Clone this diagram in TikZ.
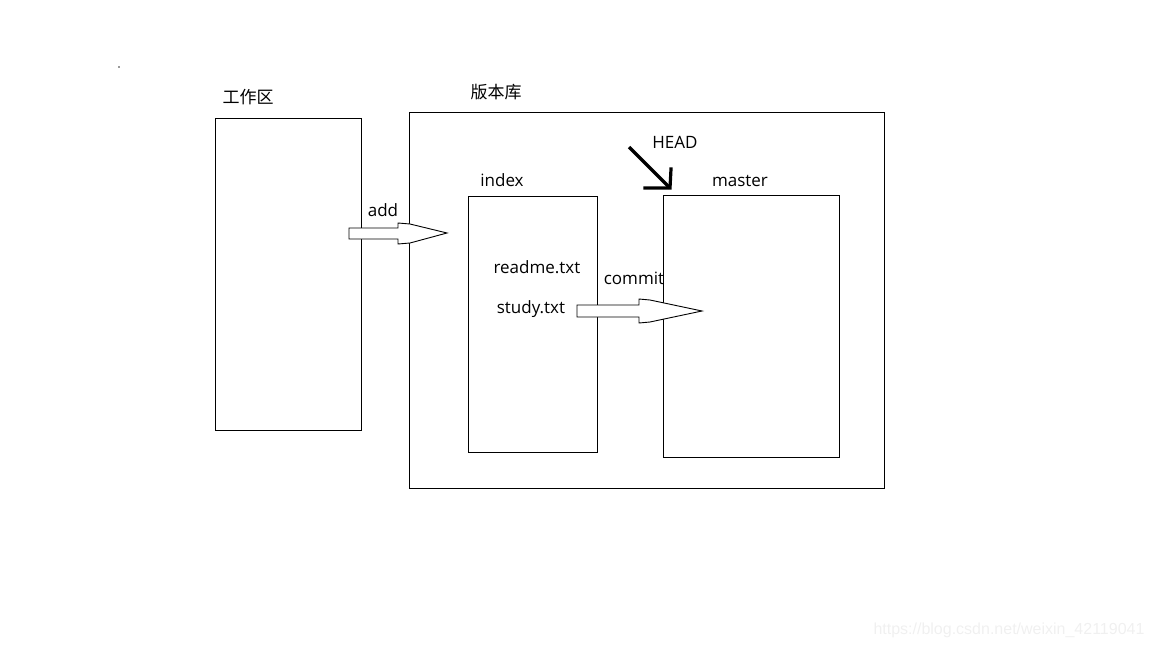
\documentclass[tikz,border=0pt]{standalone}
\usepackage{fontspec}
\setmainfont{Open Sans}
\newfontfamily\cjk{Noto Sans CJK SC}
\begin{document}
\begin{tikzpicture}[x=1pt,y=-1pt,
  box/.style={draw=black,line width=0.9pt,inner sep=0pt},
  lbl/.style={font=\fontsize{17}{20}\selectfont,inner sep=0pt,anchor=center},
  blockarrow/.style={draw=black,line width=0.9pt,fill=white,line join=miter}]
\useasboundingbox (0,0) rectangle (1152,648);
% boxes
\node[box,minimum width=146pt,minimum height=312pt] (work) at (288,274) {};
\node[box,minimum width=475pt,minimum height=376pt] (repo) at (646.5,300) {};
\node[box,minimum width=129pt,minimum height=256pt] (index) at (532.5,324) {};
\node[box,minimum width=176pt,minimum height=262pt] (master) at (751,326) {};
% labels
\node[lbl,font=\cjk\fontsize{17}{20}\selectfont] (workl) at (248,97) {工作区};
\node[lbl,font=\cjk\fontsize{17}{20}\selectfont] (repol) at (496,92) {版本库};
\node[lbl] (indexl) at (502,180) {index};
\node[lbl] (masterl) at (740,181) {master};
\node[lbl] (headl) at (675,142) {HEAD};
\node[lbl] (addl) at (383,210) {add};
\node[lbl] (commitl) at (634,278) {commit};
\node[lbl] (readme) at (537,267) {readme.txt};
\node[lbl] (study) at (531,309) {study.txt};
\node[inner sep=0pt] (dot) at (119,67) {};
\fill[black!80] (dot) circle (0.8pt);
% add arrow
\draw[blockarrow] (349,228) -- (398,228) -- (398,223) -- (410,224) -- (447,233) -- (410,243) -- (398,244) -- (398,239) -- (349,239) -- cycle;
% commit arrow
\draw[blockarrow] (577,305) -- (639,305) -- (639,299) -- (650,300) -- (702,311) -- (650,322) -- (639,323) -- (639,317) -- (577,317) -- cycle;
% HEAD arrow
\coordinate (htail) at (629,147);
\coordinate (htip) at (670,188);
\draw[line width=3.2pt] (htail) -- (htip);
\draw[line width=3.2pt,line cap=rect] (645,188) -- (htip) -- (671,169);
% watermark
\node[font=\fontspec{Liberation Sans}\fontsize{16}{19}\selectfont,text=black!6,inner sep=0pt] (wm) at (1009,630) {https://blog.csdn.net/weixin\_42119041};
\end{tikzpicture}
\end{document}
